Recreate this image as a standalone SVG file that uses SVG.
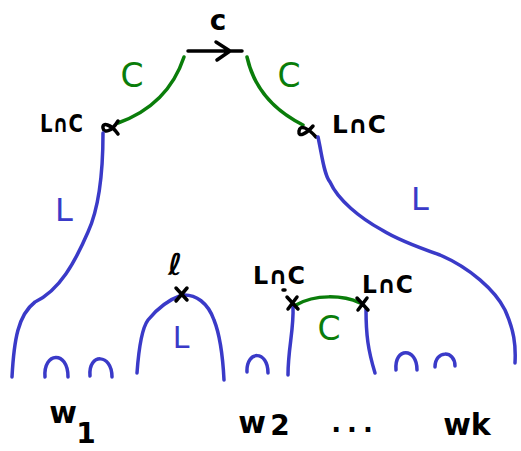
<svg xmlns="http://www.w3.org/2000/svg" width="521" height="451" viewBox="0 0 521 451">
<style>
.b{fill:none;stroke:#3a3ac8;stroke-width:3.5;stroke-linecap:round;stroke-linejoin:round}
.g{fill:none;stroke:#0a7d0a;stroke-width:3.5;stroke-linecap:round;stroke-linejoin:round}
.k{fill:none;stroke:#000;stroke-width:3.5;stroke-linecap:round;stroke-linejoin:round}
.t{font-family:"DejaVu Sans",sans-serif;font-weight:bold;fill:#000}
.tb{font-family:"DejaVu Sans",sans-serif;fill:#3a3ac8}
.tg{font-family:"DejaVu Sans",sans-serif;fill:#0a7d0a}
</style>
<rect width="521" height="451" fill="#fff"/>
<g id="top-arrow">
<path class="k" d="M188,51 L242,51 M216,42 L230,51 L217,60"/>
<text class="t" x="218" y="30" font-size="28" text-anchor="middle">c</text>
</g>
<g id="top-left-branch">
<path class="g" d="M184,57 Q168,105 118,123"/>
<text class="tg" x="132" y="87" font-size="33" text-anchor="middle">C</text>
<path class="k" d="M118,121 C112,131 104,134 103,128 C102,122 111,124 118,134"/>
<text class="t" x="40" y="132" font-size="24" textLength="43" lengthAdjust="spacingAndGlyphs">L∩C</text>
</g>
<g id="top-right-branch">
<path class="g" d="M247,57 Q257,102 303,125"/>
<text class="tg" x="289" y="87" font-size="33" text-anchor="middle">C</text>
<path class="k" d="M313,126 C306,134 298,138 299,131 C300,124 308,128 316,137"/>
<text class="t" x="332" y="133" font-size="24" textLength="54" lengthAdjust="spacingAndGlyphs">L∩C</text>
</g>
<g id="left-L">
<path class="b" d="M103,133 C103,175 99,208 88,232 C75,262 60,290 35,302 C18,315 14,340 12,377"/>
<text class="tb" x="64" y="221" font-size="32" text-anchor="middle">L</text>
</g>
<g id="right-L">
<path class="b" d="M318,137 C322,155 324,175 330,182 C338,200 360,218 382,230 C398,240 420,248 440,255 C470,268 495,290 505,310 C514,330 516,345 515,363"/>
<text class="tb" x="420" y="210" font-size="32" text-anchor="middle">L</text>
</g>
<g id="w1">
<path class="b" d="M45,377 C43,352 68,350 68,377"/>
<path class="b" d="M90,376 C88,353 112,353 112,377"/>
<text class="t" x="63" y="423" font-size="30" text-anchor="middle">w</text>
<text class="t" x="86" y="443" font-size="28" text-anchor="middle">1</text>
</g>
<g id="l-arch">
<path class="b" d="M137,373 C139,345 142,328 148,320 C156,310 168,300 182,295 C196,294 208,303 214,320 C220,335 223,360 224,380"/>
<text class="t" x="175" y="275" font-size="30" text-anchor="middle" font-style="italic">ℓ</text>
<path class="k" d="M176,288 L187,300 M187,288 L176,301"/>
<text class="tb" x="181" y="348" font-size="30" text-anchor="middle">L</text>
</g>
<g id="w2">
<path class="b" d="M247,372 C246,350 268,350 268,373"/>
<text class="t" x="252" y="433" font-size="30" text-anchor="middle">w</text>
<text class="t" x="280" y="435" font-size="28" text-anchor="middle">2</text>
</g>
<g id="c-bridge">
<path class="b" d="M293,306 C294,330 288,348 288,375"/>
<path class="b" d="M366,309 C366,335 368,350 375,373"/>
<path class="g" d="M296,305 C315,294 343,295 360,303"/>
<path class="k" d="M287,297 L298,309 M297,297 L288,309 M283,290 L285,290"/>
<path class="k" d="M357,298 L368,310 M367,298 L358,310"/>
<text class="t" x="253" y="284" font-size="24" textLength="52" lengthAdjust="spacingAndGlyphs">L∩C</text>
<text class="t" x="362" y="293" font-size="24" textLength="51" lengthAdjust="spacingAndGlyphs">L∩C</text>
<text class="tg" x="329" y="340" font-size="33" text-anchor="middle">C</text>
</g>
<g id="wk">
<path class="b" d="M396,370 C394,347 417,347 417,370"/>
<path class="b" d="M435,367 C435,350 455,350 455,366"/>
<text class="t" x="355" y="432" font-size="26" text-anchor="middle" letter-spacing="6">...</text>
<text class="t" x="467" y="435" font-size="30" text-anchor="middle">wk</text>
</g>
</svg>
